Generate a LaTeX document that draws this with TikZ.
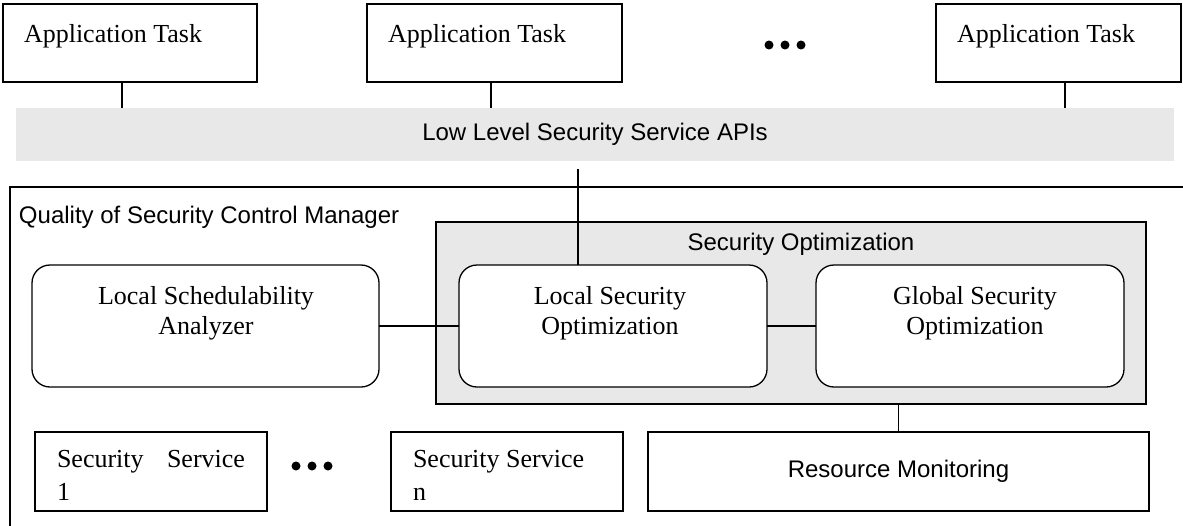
\documentclass[tikz,border=0pt]{standalone}
\usepackage{fontspec}
\setmainfont{Liberation Serif}
\newfontfamily\arialf{Liberation Sans}
\usetikzlibrary{calc}
\definecolor{graybg}{RGB}{232,232,232}
\tikzset{
  box/.style={draw, line width=1.3pt, inner sep=0pt, outer sep=0pt, anchor=north west},
  rbox/.style={box, rounded corners=18pt, fill=white},
  serift/.style={font=\fontsize{26}{30}\selectfont, inner sep=0pt, outer sep=0pt},
  sanst/.style={font=\arialf\fontsize{24}{28}\selectfont, inner sep=0pt, outer sep=0pt},
  conn/.style={line width=1.3pt},
  dotfill/.style={fill=black}
}
\begin{document}
\begin{tikzpicture}[x=1pt,y=-1pt]
\useasboundingbox (0,0) rectangle (1183,525);
\clip (0,0) rectangle (1183,525);

% outer manager box
\node[box, fill=white, minimum width=1200pt, minimum height=360pt] (qos) at (10,187) {};
\node[sanst, anchor=base west] (qosT) at (19,223) {Quality of Security Control Manager};

% security optimization group
\node[box, fill=graybg, minimum width=710pt, minimum height=182pt] (secopt) at (436,222) {};
\node[sanst, anchor=base] (secoptT) at (801,250) {Security Optimization};

% API band
\node[fill=graybg, inner sep=0pt, outer sep=0pt, anchor=north west, minimum width=1158pt, minimum height=53pt, sanst] (band) at (16,108) {Low Level Security Service APIs};

% application tasks
\node[box, minimum width=254pt, minimum height=78pt] (at1) at (3,4) {};
\node[serift, anchor=base west] (at1T) at (24,42) {Application Task};
\node[box, minimum width=255pt, minimum height=78pt] (at2) at (367,4) {};
\node[serift, anchor=base west] (at2T) at (388,42) {Application Task};
\node[box, minimum width=245pt, minimum height=78pt] (at3) at (936,4) {};
\node[serift, anchor=base west] (at3T) at (957,42) {Application Task};
\fill[dotfill] (769,45) circle (4.5pt) (785,45) circle (4.5pt) (801,45) circle (4.5pt);

% optimizers
\node[rbox, minimum width=347pt, minimum height=122pt] (lsa) at (32,265) {};
\node[serift, align=center] (lsaT) at (206,313) {Local Schedulability\\Analyzer};
\node[rbox, minimum width=308pt, minimum height=122pt] (lso) at (459,265) {};
\node[serift, align=center] (lsoT) at (610,313) {Local Security\\Optimization};
\node[rbox, minimum width=308pt, minimum height=122pt] (gso) at (816,265) {};
\node[serift, align=center] (gsoT) at (975,313) {Global Security\\Optimization};

% bottom row
\node[box, minimum width=232pt, minimum height=79pt] (ss1) at (35,432) {};
\node[serift, font=\fontsize{26}{33}\selectfont, align=left, anchor=north west] (ss1T) at (57,450) {\makebox[188pt][s]{Security\hfill Service}\\1};
\fill[dotfill] (296,466) circle (4.5pt) (312,466) circle (4.5pt) (328,466) circle (4.5pt);
\node[box, minimum width=232pt, minimum height=79pt] (ssn) at (391,432) {};
\node[serift, font=\fontsize{26}{33}\selectfont, align=left, anchor=north west] (ssnT) at (413,450) {Security Service\\n};
\node[box, sanst, minimum width=501pt, minimum height=79pt] (rm) at (648,432) {Resource Monitoring};

% connectors
\draw[conn] ([xshift=-8pt]at1.south) -- ([xshift=-8pt]at1.south |- band.north);
\draw[conn] ([xshift=-3.5pt]at2.south) -- ([xshift=-3.5pt]at2.south |- band.north);
\draw[conn] ([xshift=6.5pt]at3.south) -- ([xshift=6.5pt]at3.south |- band.north);
\draw[conn] ($(lso.north |- band.south)+(-35,8)$) -- ([xshift=-35pt]lso.north);
\draw[conn] (lsa.east) -- (lsa.east -| lso.west);
\draw[conn] (lso.east) -- (gso.west);
\draw[conn] (rm.north) -- (rm.north |- secopt.south);
\end{tikzpicture}
\end{document}
